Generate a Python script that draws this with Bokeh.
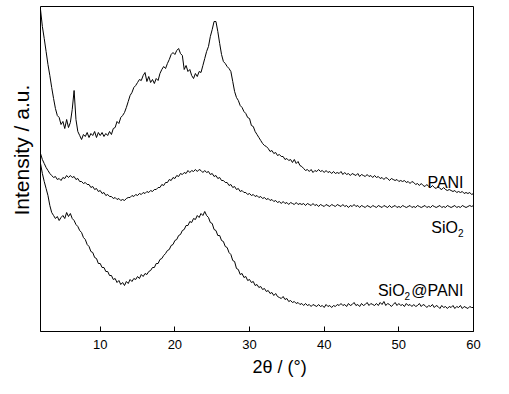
import numpy as np
from bokeh.plotting import figure
from bokeh.models import Label, FixedTicker, Title
from bokeh.embed import file_html
from bokeh.resources import INLINE

# 2-theta grid start / step (degrees)
theta_start = 2.0
theta_step = 0.25

# Intensity (a.u.), 0.25 deg steps from 2 to 60
pani = [
    322, 305, 293, 280, 267, 256, 244, 233, 223, 216, 214, 207, 210, 203, 212, 204, 209, 222, 241, 212,
    200, 196, 192, 197, 195, 199, 194, 198, 196, 200, 194, 199, 196, 199, 195, 198, 196, 200, 197, 203,
    204, 210, 208, 214, 216, 219, 224, 230, 236, 239, 244, 246, 249, 252, 251, 256, 259, 250, 255, 249,
    252, 248, 253, 251, 258, 262, 265, 263, 268, 272, 277, 279, 277, 281, 283, 278, 276, 262, 266, 260,
    262, 256, 253, 258, 255, 260, 259, 266, 273, 280, 285, 295, 302, 310, 310, 300, 288, 277, 270, 268,
    265, 263, 260, 250, 240, 234, 231, 226, 224, 220, 218, 214, 213, 206, 205, 200, 197, 194, 191, 188,
    186, 185, 183, 180, 181, 178, 179, 176, 177, 175, 175, 172, 173, 171, 172, 169, 172, 168, 170, 166,
    165, 163, 161, 162, 160, 162, 159, 161, 160, 162, 160, 161, 159, 161, 159, 160, 158, 160, 158, 159,
    158, 160, 157, 159, 157, 158, 156, 158, 157, 156, 158, 155, 157, 156, 155, 157, 155, 156, 154, 156,
    154, 155, 153, 154, 152, 154, 153, 151, 153, 152, 151, 152, 150, 151, 150, 151, 149, 150, 148, 150,
    149, 147, 148, 146, 148, 146, 145, 147, 145, 144, 146, 144, 143, 145, 143, 142, 144, 142, 141, 142,
    141, 140, 141, 139, 140, 139, 140, 138, 139, 138, 139, 137, 138,
]

sio2 = [
    178, 172, 168, 164, 161, 158, 156, 154, 155, 152, 153, 151, 154, 153, 156, 154, 156, 154, 155, 152,
    153, 150, 150, 148, 149, 147, 147, 144, 145, 142, 143, 140, 141, 138, 139, 136, 137, 135, 135, 133,
    134, 132, 133, 131, 132, 131, 133, 134, 134, 136, 135, 137, 136, 138, 137, 139, 138, 140, 139, 141,
    140, 142, 142, 144, 144, 147, 146, 149, 149, 152, 151, 154, 153, 156, 155, 158, 157, 159, 158, 161,
    159, 161, 160, 162, 160, 162, 161, 159, 161, 159, 160, 157, 158, 155, 156, 153, 154, 151, 151, 149,
    149, 146, 147, 144, 145, 142, 143, 140, 141, 139, 139, 137, 138, 136, 137, 135, 136, 134, 135, 133,
    134, 132, 133, 131, 132, 130, 131, 129, 130, 128, 130, 128, 129, 127, 129, 128, 127, 129, 127, 128,
    127, 128, 126, 128, 127, 126, 128, 126, 127, 125, 127, 126, 125, 127, 126, 125, 127, 126, 125, 127,
    126, 125, 127, 125, 126, 124, 126, 125, 127, 125, 126, 124, 126, 125, 124, 126, 125, 124, 126, 125,
    124, 126, 125, 124, 126, 125, 124, 126, 124, 125, 126, 124, 125, 124, 126, 125, 124, 125, 126, 124,
    125, 124, 126, 125, 124, 125, 126, 124, 125, 124, 126, 125, 124, 125, 126, 124, 125, 124, 126, 125,
    124, 125, 126, 124, 125, 124, 126, 125, 124, 125, 126, 125, 126,
]

sio2_pani = [
    168, 158, 150, 143, 136, 126, 119, 116, 113, 115, 111, 114, 116, 113, 119, 115, 118, 113, 111, 107,
    105, 101, 99, 94, 92, 87, 85, 80, 79, 74, 73, 68, 68, 64, 64, 60, 60, 56, 56, 52,
    53, 49, 51, 47, 49, 46, 50, 48, 52, 50, 53, 52, 55, 53, 57, 55, 58, 57, 60, 61,
    64, 64, 68, 68, 72, 73, 76, 78, 81, 82, 86, 87, 91, 92, 96, 97, 101, 102, 106, 106,
    110, 109, 113, 112, 116, 114, 118, 116, 120, 116, 114, 109, 108, 102, 101, 96, 96, 91, 90, 85,
    84, 79, 77, 71, 70, 63, 62, 57, 58, 54, 55, 51, 52, 49, 50, 46, 47, 44, 45, 42,
    43, 40, 41, 38, 39, 36, 38, 35, 34, 33, 35, 32, 33, 30, 31, 29, 30, 28, 29, 27,
    28, 26, 28, 26, 27, 25, 27, 26, 25, 27, 25, 26, 24, 27, 25, 26, 24, 26, 25, 27,
    26, 28, 26, 27, 25, 28, 26, 27, 29, 26, 27, 25, 28, 26, 27, 29, 26, 28, 27, 26,
    28, 26, 29, 27, 30, 26, 28, 27, 25, 27, 29, 26, 28, 26, 27, 25, 28, 26, 27, 25,
    27, 25, 26, 28, 25, 27, 26, 24, 26, 25, 27, 24, 26, 25, 23, 26, 24, 25, 23, 25,
    24, 26, 23, 25, 24, 26, 23, 25, 24, 23, 25, 24, 24,
]

x_ticks = [10, 20, 30, 40, 50, 60]
series_labels = ["PANI", "SiO", "SiO"]
x_title = "2θ / (°)"
y_title = "Intensity / a.u."

FONT = "Liberation Sans"

p = figure(width=501, height=394, x_range=(2, 60), y_range=(0, 325),
           output_backend="svg", toolbar_location=None, title=None,
           y_axis_location=None,
           min_border_left=38, min_border_right=28, min_border_top=6, min_border_bottom=63)

p.xgrid.visible = False
p.ygrid.visible = False
p.outline_line_color = "black"
p.outline_line_width = 1
p.background_fill_color = "white"
p.border_fill_color = "white"

ax = p.xaxis[0]
ax.ticker = FixedTicker(ticks=x_ticks)
ax.major_tick_in = 5
ax.major_tick_out = 0
ax.minor_tick_line_color = None
ax.axis_line_color = "black"
ax.major_tick_line_color = "black"
ax.major_label_text_font = FONT
ax.major_label_text_font_size = "13px"
ax.major_label_text_color = "black"
ax.major_label_standoff = 8

for ys in (pani, sio2, sio2_pani):
    xs = theta_start + theta_step * np.arange(len(ys))
    p.line(xs, ys, line_color="black", line_width=1)

def lab(x, y, text, size="16px", align="left"):
    p.add_layout(Label(x=x, y=y, text=text, text_font=FONT, text_font_size=size,
                       text_align=align, text_baseline="alphabetic", text_color="black"))

# curve labels
lab(58.667, 149, series_labels[0], align="right")
lab(57.92, 104, series_labels[1], align="right")
lab(57.92, 99, "2", size="10px")
lab(50.77, 41, series_labels[2], align="right")
lab(50.77, 36, "2", size="10px")
lab(58.667, 41, "@PANI", align="right")

# axis titles
p.add_layout(Title(text=y_title, align="left", offset=116, text_font=FONT,
                   text_font_size="21px", text_font_style="normal", text_color="black",
                   standoff=15), "left")
p.add_layout(Title(text=x_title, align="left", offset=212, text_font=FONT,
                   text_font_size="18px", text_font_style="normal", text_color="black",
                   vertical_align="bottom", standoff=6), "below")

open("out.html", "w").write(file_html(p, INLINE))
